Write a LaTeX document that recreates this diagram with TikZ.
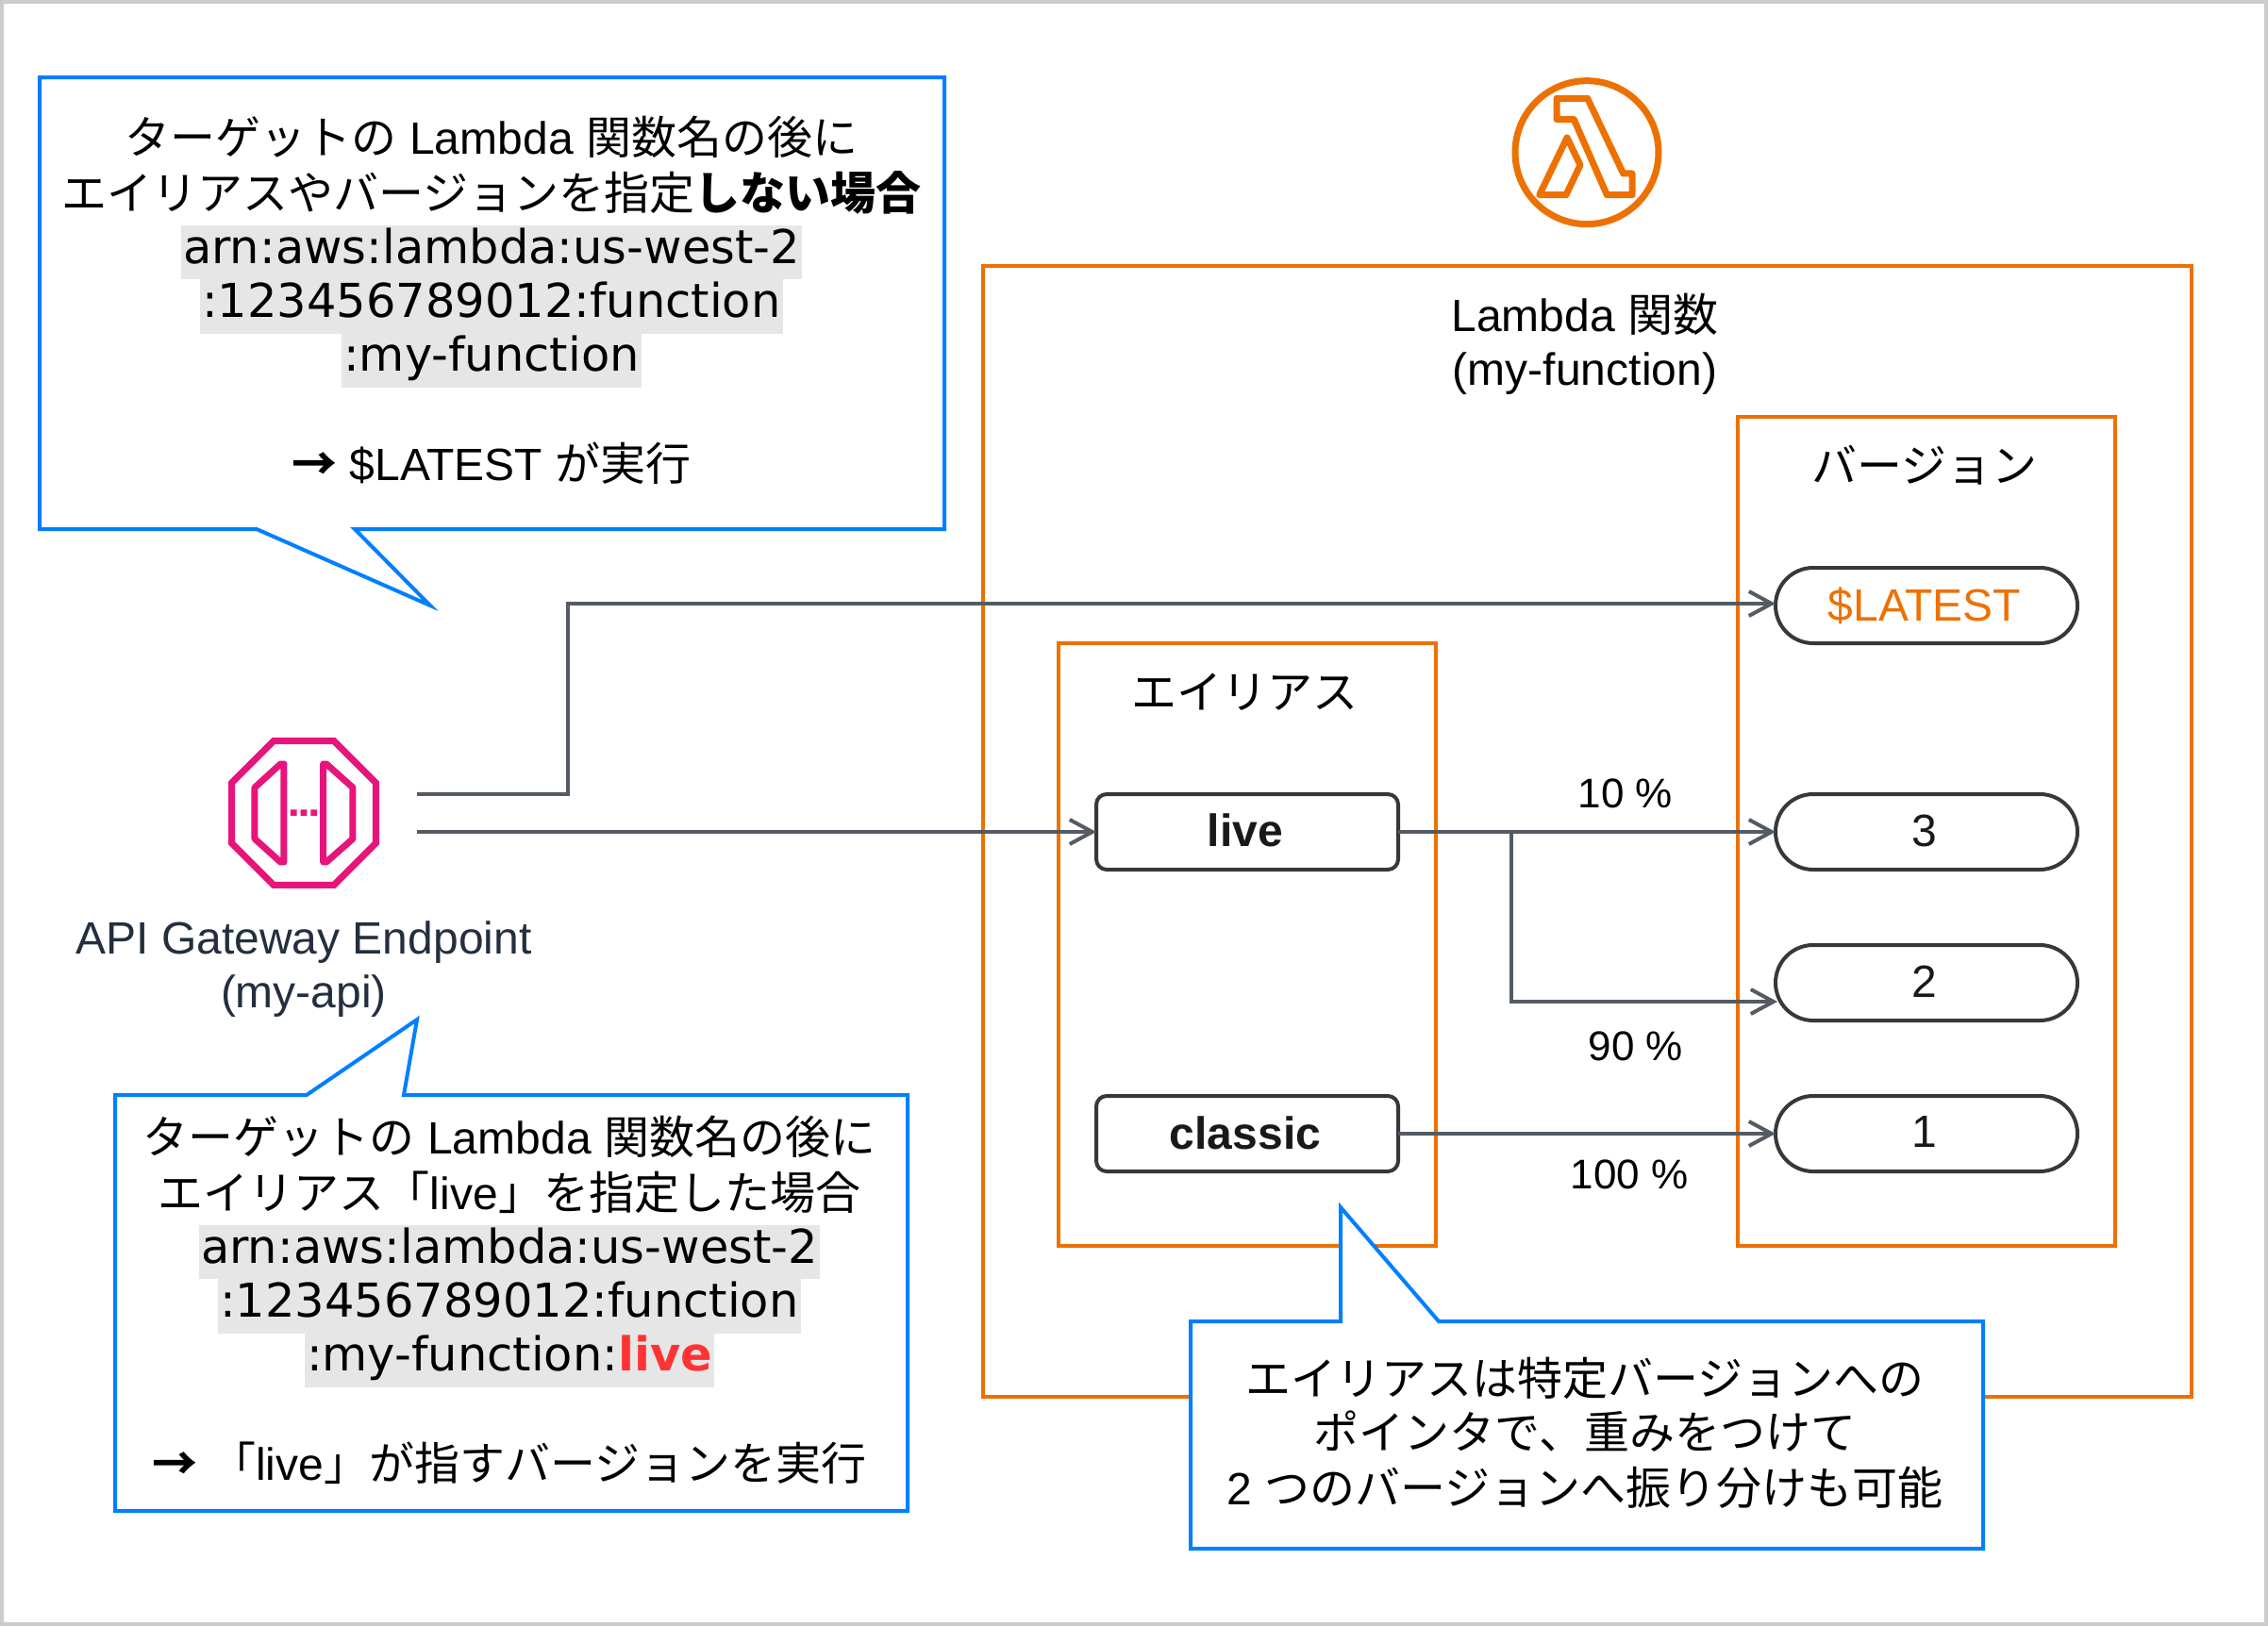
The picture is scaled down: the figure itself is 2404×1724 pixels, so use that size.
\documentclass[tikz,border=0pt]{standalone}
\usepackage{fontspec}
\setmainfont{Liberation Sans}
\newfontfamily\cjk{Noto Sans CJK JP}
\newfontfamily\arnfont{DejaVu Sans}
\usetikzlibrary{arrows.meta}
\definecolor{lbo}{HTML}{ED7100}
\definecolor{callblue}{HTML}{007FFF}
\definecolor{apipink}{HTML}{E7157B}
\definecolor{linegray}{HTML}{545B64}
\definecolor{hlgray}{HTML}{E6E6E6}
\definecolor{inkdark}{HTML}{232F3E}
\definecolor{livered}{HTML}{FF3333}
\newcommand\ja[1]{{\cjk #1}}
\newcommand\hl[1]{{\setlength{\fboxsep}{0pt}\colorbox{hlgray}{\strut\kern2pt\arnfont\fontsize{49.5}{57.4}\selectfont #1\kern2pt}}}
\newcommand\heavyarrow{{\cjk\bfseries →}}
\newcommand\pilltxt[2]{\raisebox{#1}{#2}\kern4pt}
\tikzset{
  calloutshape/.style={draw=callblue,fill=white,line width=4pt,miter limit=10},
  calltext/.style={align=center,text=black,inner sep=0pt,font=\fontsize{48}{57.4}\selectfont},
  orangebox/.style={draw=lbo,line width=4pt},
  plain/.style={align=center,text=black,inner sep=0pt,font=\fontsize{48}{57}\selectfont},
  apilabel/.style={align=center,text=inkdark,inner sep=0pt,font=\fontsize{48}{57}\selectfont},
  aliasbox/.style={draw=black!78,fill=white,line width=4pt,rounded corners=11pt,minimum width=320pt,minimum height=80pt,inner sep=0pt,outer sep=0pt,font=\fontsize{48}{57}\selectfont\bfseries,text=black!90},
  versionpill/.style={draw=black!78,fill=white,line width=4pt,rounded corners=39.9pt,minimum width=320pt,minimum height=80pt,inner sep=0pt,outer sep=0pt,text=black!90,font=\fontsize{48}{57}\selectfont},
  flow/.style={draw=linegray,line width=4pt,-{Straight Barb[length=24pt,width=26pt,line width=4pt]}},
  iconline/.style={line width=7pt,line join=round},
}
\begin{document}
\begin{tikzpicture}[x=1pt,y=-1pt]
\useasboundingbox (0,0) rectangle (2404,1724);
\begin{scope}
\clip (0,0) rectangle (2404,1724);
\draw[draw=black!20,line width=8pt] (0,0) rectangle (2404,1724);
\end{scope}

% Lambda icon
\begin{scope}[shift={(1560,60)},x=0.3333pt,y=-0.3333pt,draw=lbo]
  \draw[iconline] (366,305) circle[radius=228pt*0.3333];
  \draw[iconline] (270,133) -- (368,133) -- (482,372) -- (510,372) -- (510,440) -- (430,440) -- (325,200) -- (270,200) -- cycle;
  \draw[iconline] (303,258) -- (345,345) -- (300,440) -- (215,440) -- cycle;
\end{scope}

% API Gateway icon
\begin{scope}[shift={(210,750)},x=0.3333pt,y=-0.3333pt,draw=apipink]
  \draw[iconline,line join=miter] (240,107) -- (432,107) -- (565,240) -- (565,432) -- (432,565) -- (240,565) -- (107,432) -- (107,240) -- cycle;
  \draw[iconline] (273,180) -- (273,492) -- (262,492) -- (180,418) -- (180,255) -- (262,180) -- cycle;
  \draw[iconline] (398,180) -- (398,492) -- (408,492) -- (492,418) -- (492,255) -- (408,180) -- cycle;
  \fill[apipink] (294,325) rectangle (314,345) (326,325) rectangle (346,345) (358,325) rectangle (378,345);
\end{scope}

% Containers
\draw[orangebox] (1042,282) rectangle (2323,1481);
\draw[orangebox] (1842,442) rectangle (2242,1321);
\draw[orangebox] (1122,682) rectangle (1522,1321);

\node[plain] (lambdatitle) at (1680,365) {Lambda \ja{関数}\\(my-function)};
\node[plain] (versiontitle) at (2040,493) {\ja{バージョン}};
\node[plain] (aliastitle) at (1319,734) {\ja{エイリアス}};
\node[apilabel] (apilab) at (322,1028) {API Gateway Endpoint\\(my-api)};

% Alias and version nodes
\node[aliasbox] (live) at (1322,882) {\pilltxt{3pt}{live}};
\node[aliasbox] (classic) at (1322,1202) {\pilltxt{2pt}{classic}};
\node[versionpill,text=lbo] (latest) at (2042,642) {\pilltxt{2pt}{\$LATEST}};
\node[versionpill] (v3) at (2042,882) {\pilltxt{2pt}{3}};
\node[versionpill] (v2) at (2042,1042) {\pilltxt{2.5pt}{2}};
\node[versionpill] (v1) at (2042,1202) {\pilltxt{3.5pt}{1}};

% Free connector ends
\coordinate (apiA) at (442,842);
\coordinate (apiB) at (442,882);
\coordinate (apiBend) at (602,842);
\coordinate (latestBend) at (602,640);
\coordinate (latestIn) at (1882,640);
\coordinate (split) at (1602,882);
\coordinate (splitDown) at (1602,1062);
\coordinate (v2in) at (1884,1062);

% Connectors
\draw[flow] (apiA) -- (apiBend) -- (latestBend) -- (latestIn);
\draw[flow] (apiB) -- (live.west);
\draw[flow] (live.east) -- (v3.west);
\draw[flow] (split) -- (splitDown) -- (v2in);
\draw[flow] (classic.east) -- (v1.west);

\node[plain,font=\fontsize{44}{57}\selectfont] (p10) at (1723,841) {10 \%};
\node[plain,font=\fontsize{44}{57}\selectfont] (p90) at (1734,1109) {90 \%};
\node[plain,font=\fontsize{44}{57}\selectfont] (p100) at (1727,1245) {100 \%};

% Callout 1
\draw[calloutshape] (42,82) -- (1001,82) -- (1001,561) -- (376,561) -- (456,642) -- (272,561) -- (42,561) -- cycle;
\node[calltext] (call1) at (521,318) {\ja{ターゲットの} Lambda \ja{関数名の後に}\\[2pt]
\ja{エイリアスやバージョンを指定}{\bfseries\ja{しない場合}}\\[-1pt]
\hl{arn:aws:lambda:us-west-2}\\
\hl{:123456789012:function}\\
\hl{:my-function}\\[-1pt]
\strut\\
\heavyarrow{} \$LATEST \ja{が実行}};

% Callout 2
\draw[calloutshape] (122,1161) -- (325,1161) -- (442,1081) -- (428,1161) -- (962,1161) -- (962,1602) -- (122,1602) -- cycle;
\node[calltext] (call2) at (540,1378) {\ja{ターゲットの} Lambda \ja{関数名の後に}\\[2pt]
\ja{エイリアス「}live\ja{」を指定した場合}\\[-1pt]
\hl{arn:aws:lambda:us-west-2}\\
\hl{:123456789012:function}\\
\hl{:my-function:\textcolor{livered}{\bfseries live}}\\[-1pt]
\strut\\
\heavyarrow{} \ja{「}live\ja{」が指すバージョンを実行}};

% Callout 3
\draw[calloutshape] (1262,1401) -- (1421,1401) -- (1421,1280) -- (1525,1401) -- (2102,1401) -- (2102,1642) -- (1262,1642) -- cycle;
\node[calltext] (call3) at (1680,1519) {\ja{エイリアスは特定バージョンへの}\\
\ja{ポインタで、重みをつけて}\\[1.5pt]
2 \ja{つのバージョンへ振り分けも可能}};
\end{tikzpicture}
\end{document}
